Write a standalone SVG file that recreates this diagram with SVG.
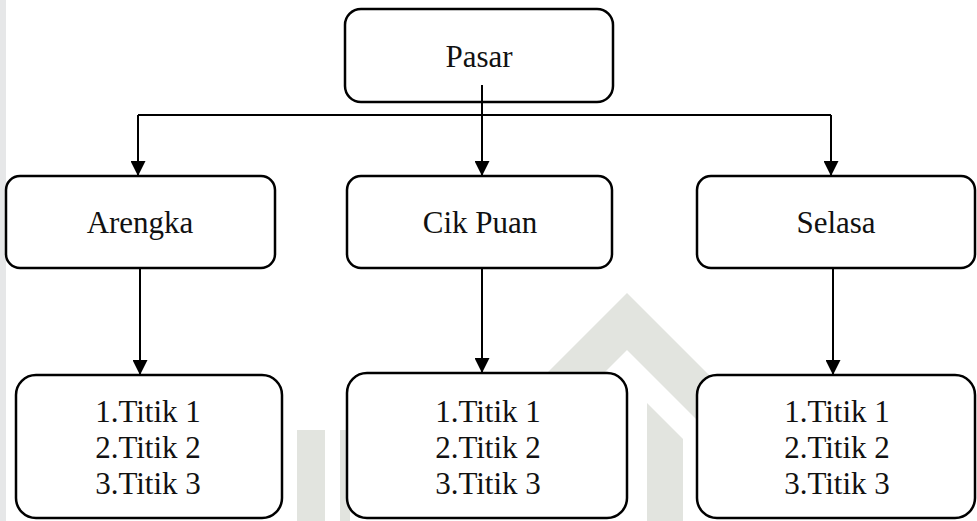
<svg xmlns="http://www.w3.org/2000/svg" width="977" height="521" viewBox="0 0 977 521">
  <defs>
    <marker id="arrow" markerUnits="userSpaceOnUse" markerWidth="15" markerHeight="15" refX="15" refY="7.5" orient="auto">
      <path d="M0,0 L15,7.5 L0,15 z" fill="#000"/>
    </marker>
  </defs>
  <style>
    .box { fill: #fff; stroke: #000; stroke-width: 2.5; }
    text { font-family: 'Liberation Serif', 'DejaVu Serif', 'Times New Roman', serif !important; font-size: 31px; fill: #111; text-anchor: middle; }
    .conn { fill: none; stroke: #000; stroke-width: 2; }
    .wm { fill: #e2e4df; }
  </style>
  <rect x="0" y="0" width="977" height="521" fill="#fff"/>
  <g id="background">
    <rect x="0" y="0" width="6" height="521" fill="#e6e7e8"/>
    <polygon class="wm" points="627,293 760,426 760,483 627,350 494,483 494,426"/>
    <polygon class="wm" points="647,403 683,439 683,521 647,521"/>
    <rect class="wm" x="297" y="430" width="28" height="91"/>
    <rect class="wm" x="340" y="430" width="10" height="91"/>
  </g>
  <g id="pasar">
    <rect class="box" x="345" y="9" width="268" height="93" rx="16"/>
    <text x="479" y="67" font-family="Liberation Serif">Pasar</text>
  </g>
  <g id="arengka">
    <rect class="box" x="6" y="176" width="269" height="92" rx="14"/>
    <text x="140" y="233" font-family="Liberation Serif">Arengka</text>
  </g>
  <g id="cikpuan">
    <rect class="box" x="347" y="176" width="265" height="92" rx="14"/>
    <text x="480" y="233" font-family="Liberation Serif">Cik Puan</text>
  </g>
  <g id="selasa">
    <rect class="box" x="697" y="176" width="278" height="92" rx="14"/>
    <text x="836" y="233" font-family="Liberation Serif">Selasa</text>
  </g>
  <g id="titik-arengka">
    <rect class="box" x="16" y="375" width="266" height="143" rx="20"/>
    <text x="148" y="422" font-family="Liberation Serif">1.Titik 1</text>
    <text x="148" y="458" font-family="Liberation Serif">2.Titik 2</text>
    <text x="148" y="494" font-family="Liberation Serif">3.Titik 3</text>
  </g>
  <g id="titik-cikpuan">
    <rect class="box" x="347" y="373" width="280" height="145" rx="20"/>
    <text x="488" y="422" font-family="Liberation Serif">1.Titik 1</text>
    <text x="488" y="458" font-family="Liberation Serif">2.Titik 2</text>
    <text x="488" y="494" font-family="Liberation Serif">3.Titik 3</text>
  </g>
  <g id="titik-selasa">
    <rect class="box" x="697" y="375" width="278" height="143" rx="20"/>
    <text x="837" y="422" font-family="Liberation Serif">1.Titik 1</text>
    <text x="837" y="458" font-family="Liberation Serif">2.Titik 2</text>
    <text x="837" y="494" font-family="Liberation Serif">3.Titik 3</text>
  </g>
  <g id="connectors">
    <path class="conn" d="M482,85 V176" marker-end="url(#arrow)"/>
    <path class="conn" d="M138,115 H831"/>
    <path class="conn" d="M138,115 V176" marker-end="url(#arrow)"/>
    <path class="conn" d="M831,115 V176" marker-end="url(#arrow)"/>
    <path class="conn" d="M140,268 V375" marker-end="url(#arrow)"/>
    <path class="conn" d="M482,268 V373" marker-end="url(#arrow)"/>
    <path class="conn" d="M833,268 V375" marker-end="url(#arrow)"/>
  </g>
</svg>
